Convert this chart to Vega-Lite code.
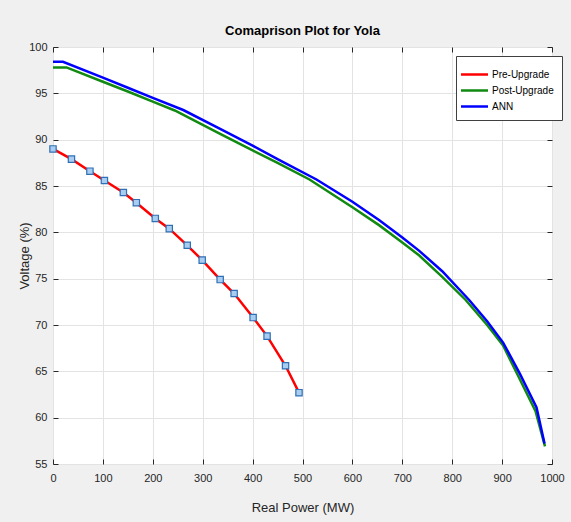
{
  "$schema": "https://vega.github.io/schema/vega-lite/v6.json",
  "width": 499,
  "height": 417,
  "autosize": {"type": "none"},
  "padding": {"left": 53, "top": 47, "right": 19, "bottom": 58},
  "background": "#f0f0f0",
  "title": {"text": "Comaprison Plot for Yola", "fontSize": 13, "fontWeight": "bold", "font": "Liberation Sans Narrow, Liberation Sans, sans-serif", "color": "#000000", "offset": 3},
  "config": {
    "view": {"fill": "white", "stroke": "#262626", "strokeWidth": 1},
    "axis": {"labelFont": "Liberation Sans Narrow, Liberation Sans, sans-serif", "titleFont": "Liberation Sans Narrow, Liberation Sans, sans-serif", "labelFontSize": 11, "labelColor": "#262626", "titleColor": "#262626", "titleFontWeight": "normal", "titleFontSize": 13, "gridColor": "#e3e3e3", "gridWidth": 1, "domain": false, "tickColor": "#262626", "tickSize": -5, "labelOverlap": false, "labelFlush": false}
  },
  "data": {"values": [
    {"series": "Pre-Upgrade", "P": 0, "V": 89.0},
    {"series": "Pre-Upgrade", "P": 37, "V": 87.9},
    {"series": "Pre-Upgrade", "P": 74, "V": 86.6},
    {"series": "Pre-Upgrade", "P": 103, "V": 85.6},
    {"series": "Pre-Upgrade", "P": 141, "V": 84.3},
    {"series": "Pre-Upgrade", "P": 167, "V": 83.2},
    {"series": "Pre-Upgrade", "P": 205, "V": 81.5},
    {"series": "Pre-Upgrade", "P": 233, "V": 80.4},
    {"series": "Pre-Upgrade", "P": 269, "V": 78.6},
    {"series": "Pre-Upgrade", "P": 299, "V": 77.0},
    {"series": "Pre-Upgrade", "P": 335, "V": 74.9},
    {"series": "Pre-Upgrade", "P": 363, "V": 73.4},
    {"series": "Pre-Upgrade", "P": 401, "V": 70.8},
    {"series": "Pre-Upgrade", "P": 429, "V": 68.8},
    {"series": "Pre-Upgrade", "P": 466, "V": 65.6},
    {"series": "Pre-Upgrade", "P": 493, "V": 62.7},
    {"series": "Post-Upgrade", "P": 0, "V": 97.8},
    {"series": "Post-Upgrade", "P": 27, "V": 97.8},
    {"series": "Post-Upgrade", "P": 100, "V": 96.25},
    {"series": "Post-Upgrade", "P": 150, "V": 95.2},
    {"series": "Post-Upgrade", "P": 200, "V": 94.1},
    {"series": "Post-Upgrade", "P": 244, "V": 93.15},
    {"series": "Post-Upgrade", "P": 334, "V": 90.65},
    {"series": "Post-Upgrade", "P": 400, "V": 88.85},
    {"series": "Post-Upgrade", "P": 450, "V": 87.5},
    {"series": "Post-Upgrade", "P": 514, "V": 85.7},
    {"series": "Post-Upgrade", "P": 600, "V": 82.7},
    {"series": "Post-Upgrade", "P": 654, "V": 80.75},
    {"series": "Post-Upgrade", "P": 700, "V": 78.9},
    {"series": "Post-Upgrade", "P": 734, "V": 77.5},
    {"series": "Post-Upgrade", "P": 780, "V": 75.2},
    {"series": "Post-Upgrade", "P": 827, "V": 72.7},
    {"series": "Post-Upgrade", "P": 870, "V": 70.0},
    {"series": "Post-Upgrade", "P": 902, "V": 67.8},
    {"series": "Post-Upgrade", "P": 934, "V": 64.3},
    {"series": "Post-Upgrade", "P": 967, "V": 60.7},
    {"series": "Post-Upgrade", "P": 986, "V": 56.9},
    {"series": "ANN", "P": 0, "V": 98.4},
    {"series": "ANN", "P": 20, "V": 98.4},
    {"series": "ANN", "P": 100, "V": 96.7},
    {"series": "ANN", "P": 150, "V": 95.6},
    {"series": "ANN", "P": 200, "V": 94.5},
    {"series": "ANN", "P": 261, "V": 93.2},
    {"series": "ANN", "P": 334, "V": 91.2},
    {"series": "ANN", "P": 400, "V": 89.35},
    {"series": "ANN", "P": 450, "V": 87.9},
    {"series": "ANN", "P": 528, "V": 85.7},
    {"series": "ANN", "P": 600, "V": 83.3},
    {"series": "ANN", "P": 654, "V": 81.3},
    {"series": "ANN", "P": 700, "V": 79.45},
    {"series": "ANN", "P": 734, "V": 78.0},
    {"series": "ANN", "P": 780, "V": 75.8},
    {"series": "ANN", "P": 834, "V": 72.7},
    {"series": "ANN", "P": 870, "V": 70.4},
    {"series": "ANN", "P": 902, "V": 68.1},
    {"series": "ANN", "P": 936, "V": 64.7},
    {"series": "ANN", "P": 969, "V": 61.1},
    {"series": "ANN", "P": 985, "V": 57.2}
  ]},
  "resolve": {"axis": {"x": "independent", "y": "independent"}},
  "layer": [
    {
      "mark": {"type": "line", "strokeWidth": 2.5},
      "encoding": {
        "x": {"field": "P", "type": "quantitative", "scale": {"domain": [0, 1000], "nice": false}, "axis": {"title": "Real Power (MW)", "format": "d", "values": [0,100,200,300,400,500,600,700,800,900,1000], "labelPadding": 13, "titlePadding": 18}},
        "y": {"field": "V", "type": "quantitative", "scale": {"domain": [55, 100], "nice": false, "zero": false}, "axis": {"title": "Voltage (%)", "values": [55,60,65,70,75,80,85,90,95,100], "labelPadding": 11, "titleFont": "Liberation Sans", "titleFontSize": 13, "titlePadding": -3}},
        "color": {"field": "series", "type": "nominal", "sort": ["Pre-Upgrade", "Post-Upgrade", "ANN"],
          "scale": {"domain": ["Pre-Upgrade", "Post-Upgrade", "ANN"], "range": ["#ff0000", "#108a10", "#0000ff"]},
          "legend": {"title": null, "orient": "none", "legendX": 403, "legendY": 9, "symbolType": "M-1.5,0L1.5,0", "symbolStrokeWidth": 2.5, "symbolSize": 324, "labelFont": "Liberation Sans Narrow, Liberation Sans, sans-serif", "labelFontSize": 10, "labelColor": "#000000", "fillColor": "white", "strokeColor": "#404040", "padding": 8, "rowPadding": 0, "labelOffset": 7}},
        "order": {"field": "P", "type": "quantitative"}
      }
    },
    {
      "transform": [{"filter": "datum.series === 'Pre-Upgrade'"}],
      "mark": {"type": "point", "shape": "square", "size": 40, "filled": true, "fill": "#a9cdf0", "stroke": "#2f6fb5", "strokeWidth": 1.2, "opacity": 1},
      "encoding": {
        "x": {"field": "P", "type": "quantitative", "axis": {"orient": "top", "labels": false, "grid": false, "title": null, "values": [0,100,200,300,400,500,600,700,800,900,1000]}},
        "y": {"field": "V", "type": "quantitative", "axis": {"orient": "right", "labels": false, "grid": false, "title": null, "values": [55,60,65,70,75,80,85,90,95,100]}}
      }
    }
  ]
}
